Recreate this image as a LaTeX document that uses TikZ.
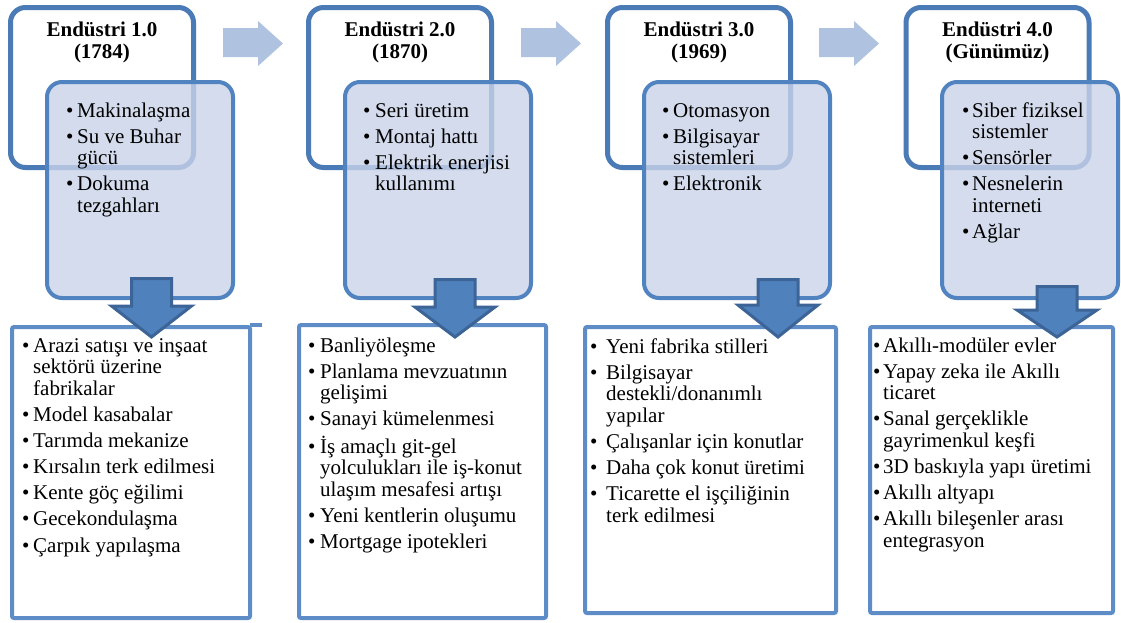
\documentclass[tikz,border=0pt]{standalone}
\usepackage{fontspec}
\setmainfont{Liberation Serif}
\definecolor{topline}{HTML}{4A7BB7}
\definecolor{midline}{HTML}{5083C0}
\definecolor{midfill}{HTML}{C9D3E8}
\definecolor{botline}{HTML}{5E8CC6}
\definecolor{arrfill}{HTML}{4F81BD}
\definecolor{arrline}{HTML}{3D6496}
\definecolor{rarr}{HTML}{AFC2DF}
\newcommand{\blist}[2]{\parbox[t]{320pt}{\fontsize{21}{21.7}\selectfont\setlength{\parskip}{4.4pt}\setlength{\parindent}{0pt}\def\itm##1{\par\hangindent=#1\hangafter=1\noindent\makebox[#1][l]{\textbullet}##1}#2}}
\newcommand{\ttl}[2]{\parbox[t]{190pt}{\fontsize{21}{22}\selectfont\centering\bfseries #1\\#2}}
\tikzset{
  topbox/.style={draw=topline, line width=5pt, rounded corners=15pt, fill=white, minimum width=183pt, minimum height=160pt, inner sep=0pt},
  midbox/.style={draw=midline, line width=4pt, rounded corners=15pt, fill=midfill, fill opacity=0.8, draw opacity=1, minimum width=186pt, minimum height=216pt, inner sep=0pt},
  botbox/.style={draw=botline, line width=4pt, rounded corners=2pt, fill=white, inner sep=0pt},
  txt/.style={anchor=base west, inner sep=0pt, text=black},
  hdr/.style={anchor=base, inner sep=0pt, text=black},
  rightarrow/.style={fill=rarr},
  downarrow/.style={fill=arrfill, draw=arrline, line width=3pt, line join=miter}
}
\begin{document}
\begin{tikzpicture}[x=1pt,y=-1pt]
\useasboundingbox (0,0) rectangle (1121,622);
% top boxes
\node[topbox] (t1) at (102,87.5) {};
\node[topbox] (t2) at (400,87.5) {};
\node[topbox] (t3) at (699,87.5) {};
\node[topbox] (t4) at (997.5,87.5) {};
\node[hdr] (h1) at (102,36) {\ttl{Endüstri 1.0}{(1784)}};
\node[hdr] (h2) at (400,36) {\ttl{Endüstri 2.0}{(1870)}};
\node[hdr] (h3) at (699,36) {\ttl{Endüstri 3.0}{(1969)}};
\node[hdr] (h4) at (997.5,36) {\ttl{Endüstri 4.0}{(Günümüz)}};
% middle boxes
\node[midbox] (m1) at (140,190) {};
\node[midbox] (m2) at (438,190) {};
\node[midbox] (m3) at (737,190) {};
\node[midbox, minimum width=176pt] (m4) at (1030,190) {};
\node[txt] (l1) at (66,117) {\blist{11pt}{\itm{Makinalaşma}\itm{Su ve Buhar\newline gücü}\itm{Dokuma\newline tezgahları}}};
\node[txt] (l2) at (363,117) {\blist{12pt}{\itm{Seri üretim}\itm{Montaj hattı}\itm{Elektrik enerjisi\newline kullanımı}}};
\node[txt] (l3) at (662,117) {\blist{11pt}{\itm{Otomasyon}\itm{Bilgisayar\newline sistemleri}\itm{Elektronik}}};
\node[txt] (l4) at (962,117) {\blist{10pt}{\itm{Siber fiziksel\newline sistemler}\itm{Sensörler}\itm{Nesnelerin\newline interneti}\itm{Ağlar}}};
% right arrows
\foreach \dx [count=\i] in {0,298,596} {
  \fill[rightarrow] (223+\dx,28) -- (258+\dx,28) -- (258+\dx,21) -- (283+\dx,43.5) -- (258+\dx,66) -- (258+\dx,57) -- (223+\dx,57) -- cycle;
}
% bottom boxes
\node[botbox, minimum width=238pt, minimum height=291pt] (b1) at (131,472.5) {};
\node[botbox, minimum width=247pt, minimum height=293pt] (b2) at (422.5,471.5) {};
\node[botbox, minimum width=251pt, minimum height=286pt] (b3) at (710.5,470) {};
\node[botbox, minimum width=243pt, minimum height=286pt] (b4) at (991.5,470) {};
\fill[botline] (b1.north east) ++(-2,-2) rectangle ++(12,4);
\node[txt] (x1) at (22,352) {\blist{11pt}{\itm{Arazi satışı ve inşaat\newline sektörü üzerine\newline fabrikalar}\itm{Model kasabalar}\itm{Tarımda mekanize}\itm{Kırsalın terk edilmesi}\itm{Kente göç eğilimi}\itm{Gecekondulaşma}\itm{Çarpık yapılaşma}}};
\node[txt] (x2) at (308,352) {\blist{12pt}{\itm{Banliyöleşme}\itm{Planlama mevzuatının\newline gelişimi}\itm{Sanayi kümelenmesi}\itm{İş amaçlı git-gel\newline yolculukları ile iş-konut\newline ulaşım mesafesi artışı}\itm{Yeni kentlerin oluşumu}\itm{Mortgage ipotekleri}}};
\node[txt] (x3) at (590,353) {\blist{16pt}{\itm{Yeni fabrika stilleri}\itm{Bilgisayar\newline destekli/donanımlı\newline yapılar}\itm{Çalışanlar için konutlar}\itm{Daha çok konut üretimi}\itm{Ticarette el işçiliğinin\newline terk edilmesi}}};
\node[txt] (x4) at (873,352) {\blist{10pt}{\itm{Akıllı-modüler evler}\itm{Yapay zeka ile Akıllı\newline ticaret}\itm{Sanal gerçeklikle\newline gayrimenkul keşfi}\itm{3D baskıyla yapı üretimi}\itm{Akıllı altyapı}\itm{Akıllı bileşenler arası\newline entegrasyon}}};
% down arrows
\foreach \cx/\top/\hb in {151.5/278.5/306, 455/279.5/307, 778/279.5/305, 1057/286.5/310} {
  \draw[downarrow] (\cx-20,\top) -- (\cx+20,\top) -- (\cx+20,\hb) -- (\cx+40,\hb) -- (\cx,337) -- (\cx-40,\hb) -- (\cx-20,\hb) -- cycle;
}
\end{tikzpicture}
\end{document}
